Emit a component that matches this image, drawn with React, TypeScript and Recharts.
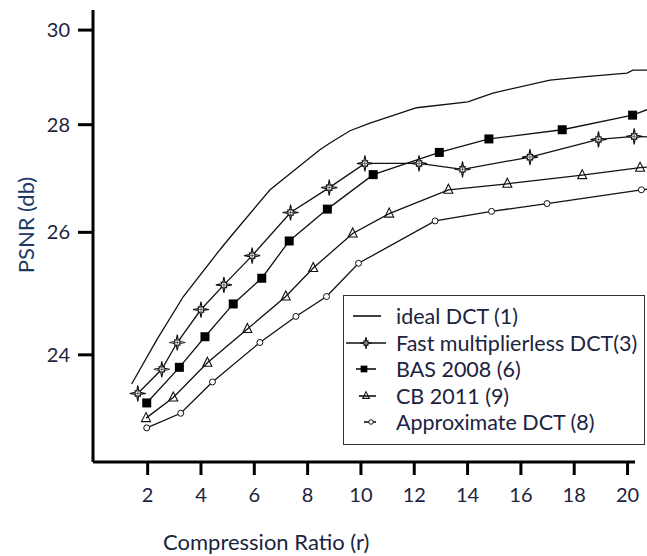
import { LineChart, Line, XAxis, YAxis, ReferenceLine, Legend } from "recharts";

// PSNR vs compression ratio. The source figure has an uneven PSNR axis
// (gaps grow toward the bottom), so y goes through an exponential transform.
const K = 0.0646;
const toT = (v: number) => -Math.exp(-K * v);
const fromT = (t: number) => -Math.log(-t) / K;

const xTicks = [2, 4, 6, 8, 10, 12, 14, 16, 18, 20];
const yTicks = [24, 26, 28, 30];

const idealX = [1.4, 2.34, 3.34, 4.71, 5.21, 6.59, 8.46, 8.84, 9.59, 10.34, 12.09, 14.01, 14.95, 17.09, 18.33, 19.98, 20.2, 20.73];
const idealY = [23.56, 24.23, 24.92, 25.7, 25.98, 26.76, 27.51, 27.64, 27.88, 28.03, 28.34, 28.46, 28.64, 28.91, 28.98, 29.06, 29.12, 29.12];

const fastX = [1.63, 2.53, 3.11, 4.0, 4.86, 5.92, 7.36, 8.81, 10.15, 12.18, 13.81, 16.34, 18.91, 20.25, 20.73];
const fastY = [23.42, 23.78, 24.19, 24.71, 25.11, 25.6, 26.35, 26.8, 27.25, 27.25, 27.14, 27.37, 27.71, 27.77, 27.76];

const basX = [1.965, 3.19, 4.15, 5.21, 6.28, 7.31, 8.74, 10.46, 12.94, 14.8, 17.55, 20.19, 20.73];
const basY = [23.28, 23.81, 24.28, 24.8, 25.22, 25.85, 26.41, 27.04, 27.46, 27.72, 27.9, 28.19, 28.3];

const cbX = [1.94, 2.96, 4.24, 5.74, 7.18, 8.21, 9.69, 11.06, 13.28, 15.49, 18.3, 20.47, 20.73];
const cbY = [23.06, 23.36, 23.88, 24.4, 24.92, 25.39, 25.98, 26.33, 26.76, 26.87, 27.03, 27.17, 27.18];

const approxX = [1.965, 3.24, 4.43, 6.21, 7.56, 8.71, 9.91, 12.78, 14.9, 16.98, 20.52, 20.73];
const approxY = [22.92, 23.13, 23.59, 24.19, 24.6, 24.92, 25.47, 26.2, 26.37, 26.51, 26.76, 26.77];

type Kind = "none" | "star" | "square" | "triangle" | "circle";

const series: { name: string; kind: Kind; xs: number[]; ys: number[] }[] = [
  { name: "ideal DCT (1)", kind: "none", xs: idealX, ys: idealY },
  { name: "Fast multiplierless DCT(3)", kind: "star", xs: fastX, ys: fastY },
  { name: "BAS 2008 (6)", kind: "square", xs: basX, ys: basY },
  { name: "CB 2011 (9)", kind: "triangle", xs: cbX, ys: cbY },
  { name: "Approximate DCT (8)", kind: "circle", xs: approxX, ys: approxY },
];

const FONT = "Lato, 'Open Sans', sans-serif";
const TEXT = "#1c2340";
const X_MAX = 20.73;
const X_AXIS_END = 20.28;
const yDomain: [number, number] = [toT(22.44), toT(30.46)];

function starPath(cx: number, cy: number, s: number) {
  const pts: string[] = [];
  for (let k = 0; k < 16; k++) {
    const a = (k * Math.PI) / 8 - Math.PI / 2;
    const r = k % 4 === 0 ? 8 * s : k % 2 === 0 ? 3.8 * s : 2.7 * s;
    pts.push(`${(cx + r * Math.cos(a)).toFixed(2)},${(cy + r * Math.sin(a)).toFixed(2)}`);
  }
  return "M" + pts.join("L") + "Z";
}

function Marker({ kind, cx, cy, s = 1 }: { kind: Kind; cx: number; cy: number; s?: number }) {
  if (kind === "star") {
    return (
      <g>
        <path d={starPath(cx, cy, s)} fill="#fff" stroke="#111" strokeWidth={1.1} />
        <line x1={cx} y1={cy - 4 * s} x2={cx} y2={cy + 4 * s} stroke="#111" strokeWidth={0.6} />
        <line x1={cx - 4 * s} y1={cy} x2={cx + 4 * s} y2={cy} stroke="#111" strokeWidth={0.6} />
      </g>
    );
  }
  if (kind === "square") {
    const h = 4.5 * s;
    return <rect x={cx - h} y={cy - h} width={2 * h} height={2 * h} fill="#000" />;
  }
  if (kind === "triangle") {
    const h = 4.5 * s;
    return (
      <path
        d={`M${cx},${cy - h - 1}L${cx + h},${cy + h - 1}L${cx - h},${cy + h - 1}Z`}
        fill="none"
        stroke="#111"
        strokeWidth={1.1}
      />
    );
  }
  if (kind === "circle") {
    return <circle cx={cx} cy={cy} r={3 * s} fill="#fff" stroke="#111" strokeWidth={1} />;
  }
  return null;
}

function makeDot(kind: Kind) {
  return (p: any) => {
    const { cx, cy, payload, index } = p;
    if (kind === "none" || cx == null || cy == null || payload.x > X_MAX - 0.05) return <g key={index} />;
    return (
      <g key={index}>
        <Marker kind={kind} cx={cx} cy={cy} />
      </g>
    );
  };
}

// legend icon geometry: [line start, line end, marker x]
const legendIcon: Record<Kind, [number, number, number]> = {
  none: [9, 37, 0],
  star: [2, 42, 22],
  square: [12, 32, 20],
  triangle: [15, 32, 22],
  circle: [20, 32, 27],
};

function LegendBox() {
  return (
    <div
      style={{
        width: 300,
        height: 141,
        border: "1.5px solid #333",
        background: "#fff",
        paddingTop: 7,
        boxSizing: "content-box",
        fontFamily: FONT,
        fontSize: 21.5,
        color: TEXT,
      }}
    >
      {series.map((s) => {
        const [a, b, m] = legendIcon[s.kind];
        return (
          <div key={s.name} style={{ display: "flex", alignItems: "center", height: 26.5 }}>
            <svg width={52} height={26} style={{ flex: "none" }}>
              <line x1={a} y1={13} x2={b} y2={13} stroke="#111" strokeWidth={1.6} />
              {s.kind !== "none" && <Marker kind={s.kind} cx={m} cy={13} s={0.75} />}
            </svg>
            <span style={{ whiteSpace: "nowrap", lineHeight: "26px" }}>{s.name}</span>
          </div>
        );
      })}
    </div>
  );
}

export default function App() {
  return (
    <div style={{ position: "absolute", left: 0, top: 0, background: "#fff" }}>
      <LineChart width={647} height={556} margin={{ top: 10, right: 0, left: 0, bottom: 0 }}>
        <XAxis
          type="number"
          dataKey="x"
          domain={[-0.05, X_MAX]}
          ticks={xTicks}
          allowDataOverflow
          axisLine={false}
          tickLine={{ stroke: "#000", strokeWidth: 3 }}
          tickSize={13}
          tickMargin={13}
          height={94}
          tick={{ fontSize: 20, fill: TEXT, fontFamily: FONT }}
          label={() => (
            <text x={163} y={550} fontSize={22} fontFamily={FONT} fill={TEXT}>
              Compression Ratio (r)
            </text>
          )}
        />
        <YAxis
          type="number"
          domain={yDomain}
          ticks={yTicks.map(toT)}
          tickFormatter={(t: number) => String(Math.round(fromT(t)))}
          allowDataOverflow
          width={93}
          axisLine={{ stroke: "#000", strokeWidth: 3 }}
          tickLine={{ stroke: "#000", strokeWidth: 3 }}
          tickSize={15}
          tickMargin={8}
          tick={{ fontSize: 20, fill: TEXT, fontFamily: FONT }}
          label={() => (
            <text
              x={25}
              y={225}
              transform="rotate(-90 25 225)"
              textAnchor="middle"
              dominantBaseline="central"
              fontSize={22}
              fontFamily={FONT}
              fill="#203864"
            >
              PSNR (db)
            </text>
          )}
        />
        <ReferenceLine
          segment={[
            { x: -0.05, y: yDomain[0] },
            { x: X_AXIS_END, y: yDomain[0] },
          ]}
          stroke="#000"
          strokeWidth={3}
        />
        {series.map((s) => (
          <Line
            key={s.name}
            name={s.name}
            data={s.xs.map((x, i) => ({ x, y: s.ys[i] }))}
            dataKey={(d: { y: number }) => toT(d.y)}
            type="linear"
            stroke="#111"
            strokeWidth={1.3}
            dot={makeDot(s.kind)}
            activeDot={false}
            isAnimationActive={false}
          />
        ))}
        <Legend
          layout="horizontal"
          verticalAlign="middle"
          align="center"
          content={() => <LegendBox />}
          wrapperStyle={{ left: 343, top: 295, width: 303 }}
        />
      </LineChart>
    </div>
  );
}
